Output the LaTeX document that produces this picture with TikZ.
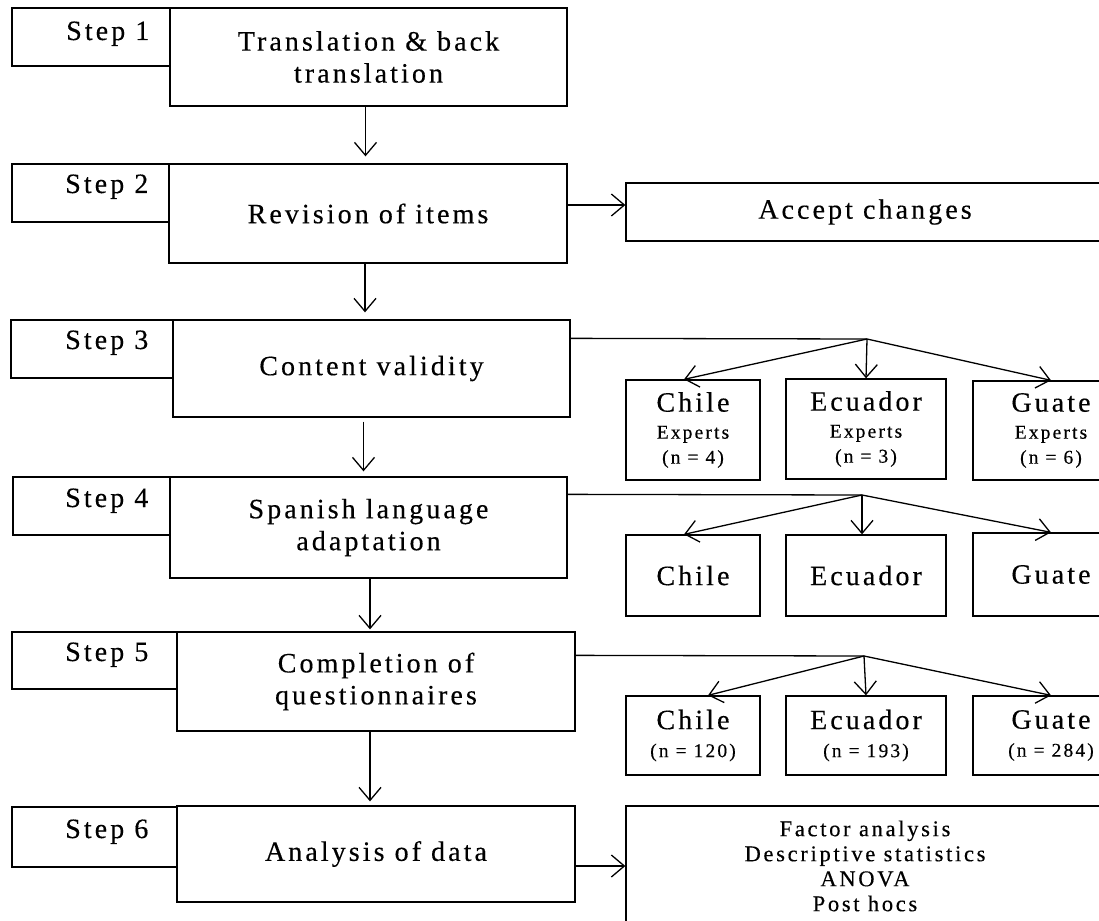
\documentclass[tikz,border=0pt]{standalone}
\usepackage{fontspec}
\setmainfont{Liberation Serif}[LetterSpace=11, FakeBold=0.35]
\newfontfamily\listfont{Liberation Serif}[LetterSpace=12, FakeBold=0.35]
\usetikzlibrary{arrows.meta}
\newcommand{\bigtxt}{\fontsize{28}{32}\selectfont}
\newcommand{\smalltxt}{\fontsize{19.5}{25}\selectfont}
\newcommand{\listtxt}{\listfont\fontsize{22.5}{25}\selectfont}
\tikzset{
stepbox/.style={draw, rectangle, inner sep=0pt},
mainbox/.style={draw, rectangle, align=center, font=\bigtxt},
countrybox/.style={draw, rectangle, align=center, font=\bigtxt, minimum height=80},
steplabel/.style={anchor=base east, font=\bigtxt, inner sep=0pt},
}

\begin{document}
\begin{tikzpicture}[x=1pt, y=-1pt, line width=1.3pt, >={Straight Barb[length=13pt, width=22pt]}]
    \useasboundingbox (0,0) rectangle (1099,920);
    \fill[white] (0,0) rectangle (1099,920);
    \clip (0,0) rectangle (1099,920);

    %step boxes
    \node[stepbox, minimum width=158, minimum height=58] (s1) at (91,37) { };
    \node[stepbox, minimum width=157, minimum height=58] (s2) at (90.5,193) { };
    \node[stepbox, minimum width=162, minimum height=58] (s3) at (92,349) { };
    \node[stepbox, minimum width=157, minimum height=58] (s4) at (91.5,506) { };
    \node[stepbox, minimum width=165, minimum height=57] (s5) at (94.5,660.5) { };
    \node[stepbox, minimum width=165, minimum height=60] (s6) at (94.5,837) { };

    \node[steplabel] (st1) at (150,40)  {Step 1};
    \node[steplabel] (st2) at (149,193) {Step 2};
    \node[steplabel] (st3) at (149,349) {Step 3};
    \node[steplabel] (st4) at (149,507) {Step 4};
    \node[steplabel] (st5) at (149,661) {Step 5};
    \node[steplabel] (st6) at (149,838) {Step 6};

    %main boxes
    \node[mainbox, minimum width=397, minimum height=98]  (m1) at (368.5,57)  {Translation \& back\\translation};
    \node[mainbox, minimum width=398, minimum height=99]  (m2) at (368,213.5) {Revision of items};
    \node[mainbox, minimum width=397, minimum height=97]  (m3) at (371.5,368.5) {Content validity};
    \node[mainbox, minimum width=397, minimum height=101] (m4) at (368.5,527.5) {Spanish language\\adaptation};
    \node[mainbox, minimum width=398, minimum height=99]  (m5) at (376,681.5) {Completion of\\questionnaires};
    \node[mainbox, minimum width=398, minimum height=96]  (m6) at (376,854)   {Analysis of data};

    %right column
    \node[mainbox, minimum width=478, minimum height=58] (acc) at (865,212) {Accept changes};
    \node[mainbox, minimum width=478, minimum height=120, font=\listtxt] (res) at (865,866)
        {Factor analysis\\Descriptive statistics\\ANOVA\\Post hocs};

    %countries, step 3
    \node[countrybox, minimum width=134, minimum height=100] (c3a) at (693,430)    {Chile\\[-5pt]{\smalltxt Experts}\\[-7pt]{\smalltxt (n = 4)}};
    \node[countrybox, minimum width=160, minimum height=100] (c3b) at (866,429)    {Ecuador\\[-5pt]{\smalltxt Experts}\\[-7pt]{\smalltxt (n = 3)}};
    \node[countrybox, minimum width=156, minimum height=99]  (c3c) at (1051,430.5) {Guate\\[-5pt]{\smalltxt Experts}\\[-7pt]{\smalltxt (n = 6)}};

    %countries, step 4
    \node[countrybox, minimum width=134, minimum height=81] (c4a) at (693,575.5)  {Chile};
    \node[countrybox, minimum width=160, minimum height=81] (c4b) at (866,575.5)  {Ecuador};
    \node[countrybox, minimum width=156, minimum height=83] (c4c) at (1051,574.5) {Guate};

    %countries, step 5
    \node[countrybox, minimum width=134, minimum height=79] (c5a) at (693,735.5)  {Chile\\[-4pt]{\smalltxt (n = 120)}};
    \node[countrybox, minimum width=160, minimum height=79] (c5b) at (866,735.5)  {Ecuador\\[-4pt]{\smalltxt (n = 193)}};
    \node[countrybox, minimum width=156, minimum height=79] (c5c) at (1051,735.5) {Guate\\[-4pt]{\smalltxt (n = 284)}};

    % vertical arrows
    \draw[->, shorten >=7pt] ([xshift=-3pt]m1.south) -- ([xshift=-3pt]m1.south |- m2.north);
    \draw[->, shorten >=7pt] ([xshift=-3pt]m2.south) -- ([xshift=-3pt]m2.south |- m3.north);
    \draw[->, shorten <=4pt, shorten >=5pt] ([xshift=-8pt]m3.south) -- ([xshift=-8pt]m3.south |- m4.north);
    \draw[->, shorten >=2pt] ([xshift=1.5pt]m4.south) -- ([xshift=1.5pt]m4.south |- m5.north);
    \draw[->, shorten >=4pt] ([xshift=-6pt]m5.south) -- ([xshift=-6pt]m5.south |- m6.north);

    % side arrows
    \draw[->] ([yshift=7pt]acc.west -| m2.east) -- ([yshift=7pt]acc.west);
    \draw[->] (res.west -| m6.east) -- (res.west);

    % forks
    \coordinate (f3) at (867,339);
    \draw ([yshift=-19pt]m3.north east) -- (f3);
    \draw[->] (f3) -- ([xshift=-9pt]c3a.north);
    \draw[->] (f3) -- (c3b.north);
    \draw[->] (f3) -- (c3c.north);

    \coordinate (f4) at (862,495);
    \draw ([yshift=-18pt]m4.north east) -- (f4);
    \draw[->] (f4) -- ([xshift=-9pt]c4a.north);
    \draw[->] (f4) -- ([xshift=-4pt]c4b.north);
    \draw[->] (f4) -- (c4c.north);

    \coordinate (f5) at (864,656);
    \draw ([yshift=-24pt]m5.north east) -- (f5);
    \draw[->] (f5) -- ([xshift=15pt]c5a.north);
    \draw[->] (f5) -- (c5b.north);
    \draw[->] (f5) -- (c5c.north);

\end{tikzpicture}
\end{document}
